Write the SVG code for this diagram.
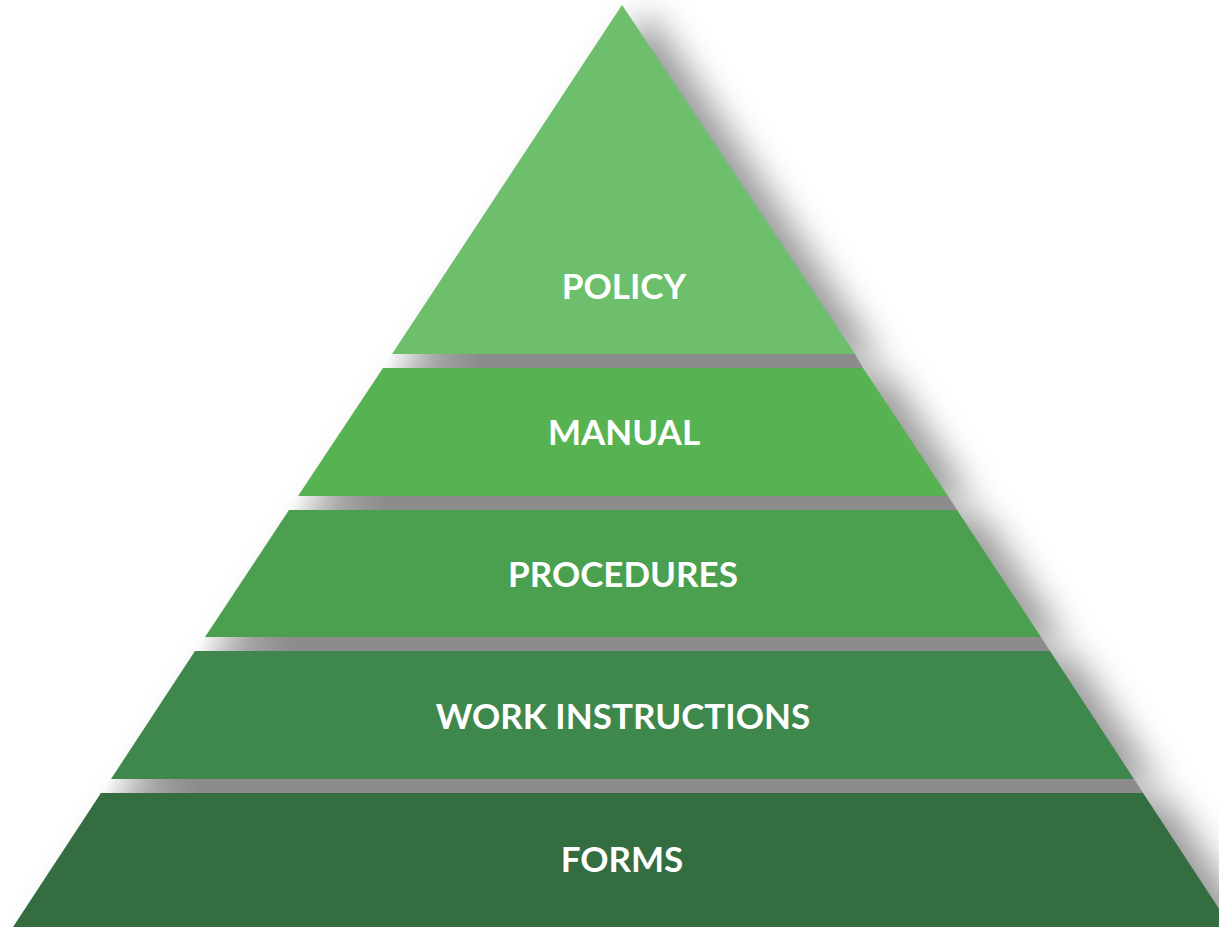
<svg xmlns="http://www.w3.org/2000/svg" width="1219" height="927" viewBox="0 0 1219 927">
  <defs>
    <!-- soft cast shadow only (source itself is not drawn) -->
    <filter id="cast" x="-20%" y="-20%" width="150%" height="150%">
      <feGaussianBlur in="SourceAlpha" stdDeviation="17"/>
      <feOffset dx="26" dy="6" result="b"/>
      <feFlood flood-color="#000" flood-opacity="0.4"/>
      <feComposite in2="b" operator="in"/>
    </filter>
    <linearGradient id="gap1" gradientUnits="userSpaceOnUse" x1="386" y1="0" x2="480" y2="0">
      <stop offset="0" stop-color="#8c8c8c" stop-opacity="0"/>
      <stop offset="1" stop-color="#8c8c8c"/>
    </linearGradient>
    <linearGradient id="gap2" gradientUnits="userSpaceOnUse" x1="292" y1="0" x2="386" y2="0">
      <stop offset="0" stop-color="#8c8c8c" stop-opacity="0"/>
      <stop offset="1" stop-color="#8c8c8c"/>
    </linearGradient>
    <linearGradient id="gap3" gradientUnits="userSpaceOnUse" x1="198" y1="0" x2="292" y2="0">
      <stop offset="0" stop-color="#8c8c8c" stop-opacity="0"/>
      <stop offset="1" stop-color="#8c8c8c"/>
    </linearGradient>
    <linearGradient id="gap4" gradientUnits="userSpaceOnUse" x1="104" y1="0" x2="198" y2="0">
      <stop offset="0" stop-color="#8c8c8c" stop-opacity="0"/>
      <stop offset="1" stop-color="#8c8c8c"/>
    </linearGradient>
    <polygon id="t1" points="622,5 855,354 392,354"/>
    <polygon id="t2" points="383,368 863,368 948,496 298,496"/>
    <polygon id="t3" points="289,510 957,510 1041,637 205,637"/>
    <polygon id="t4" points="195,651 1050,651 1134,779 111,779"/>
    <polygon id="t5" points="101,793 1143,793 1231,927 13,927"/>
    <style>
      .lbl { font-family: "Lato", "Liberation Sans", sans-serif; font-weight: 700; font-size: 35px; fill: #ffffff; text-anchor: middle; }
    </style>
  </defs>
  <rect width="1219" height="927" fill="#ffffff"/>

  <!-- shadow cast by the whole stack -->
  <g id="shadow" filter="url(#cast)">
    <use href="#t1"/><use href="#t2"/><use href="#t3"/><use href="#t4"/><use href="#t5"/>
  </g>

  <!-- grey bands between tiers, bounded by the pyramid outline -->
  <g id="gaps">
    <polygon points="392,354 855,354 863,368 383,368" fill="url(#gap1)"/>
    <polygon points="298,496 948,496 957,510 289,510" fill="url(#gap2)"/>
    <polygon points="205,637 1041,637 1050,651 195,651" fill="url(#gap3)"/>
    <polygon points="111,779 1134,779 1143,793 101,793" fill="url(#gap4)"/>
  </g>

  <g id="policy">
    <use href="#t1" fill="#6dbf6c"/>
    <text class="lbl" x="624" y="299">POLICY</text>
  </g>
  <g id="manual">
    <use href="#t2" fill="#57b351"/>
    <text class="lbl" x="624" y="445">MANUAL</text>
  </g>
  <g id="procedures">
    <use href="#t3" fill="#4aa04f"/>
    <text class="lbl" x="623" y="587">PROCEDURES</text>
  </g>
  <g id="work-instructions">
    <use href="#t4" fill="#3e874d"/>
    <text class="lbl" x="623" y="729">WORK INSTRUCTIONS</text>
  </g>
  <g id="forms">
    <use href="#t5" fill="#336d40"/>
    <text class="lbl" x="622" y="872">FORMS</text>
  </g>
</svg>
